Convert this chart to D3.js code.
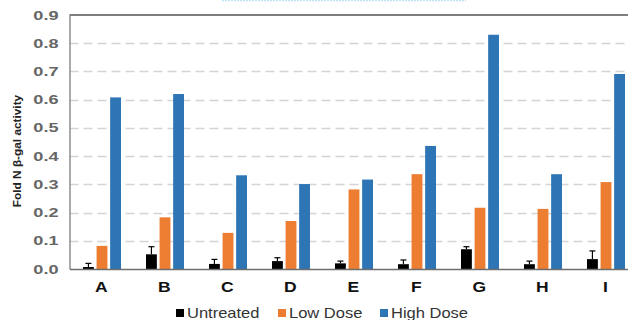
<!DOCTYPE html>
<html><head><meta charset="utf-8">
<script src="https://cdn.jsdelivr.net/npm/d3@7"></script>
<style>html,body{margin:0;padding:0;background:#fff;overflow:hidden}</style>
</head><body>
<svg id="c" width="628" height="320"></svg>
<script>
const categories = ["A","B","C","D","E","F","G","H","I"];
const seriesNames = ["Untreated","Low Dose","High Dose"];
const untreated = [0.007,0.052,0.018,0.028,0.020,0.017,0.070,0.017,0.035];
const untreatedErr = [0.013,0.027,0.016,0.012,0.008,0.015,0.009,0.011,0.029];
const lowDose = [0.082,0.183,0.128,0.170,0.282,0.336,0.217,0.213,0.308];
const highDose = [0.608,0.620,0.332,0.301,0.317,0.436,0.830,0.336,0.691];
const yTicks = [0,0.1,0.2,0.3,0.4,0.5,0.6,0.7,0.8,0.9];
const colors = ["#000000","#ED7D31","#2E75B6"];

const FONT = "Arial, 'Liberation Sans', sans-serif";
const svg = d3.select("#c");
const mLeft = 69.5, mTop = 15, mBottom = 269;
const x = d3.scaleBand().domain(categories).range([mLeft, mLeft + 63*9]);
const x1 = d3.scaleBand().domain(seriesNames).range([0, 38]).paddingInner(0.2);
const y = d3.scaleLinear().domain([0, 0.9]).range([mBottom, mTop]);

// title remnant
svg.append("line").attr("x1",222).attr("x2",466).attr("y1",0.5).attr("y2",0.5)
  .attr("stroke","#bfe3f5").attr("stroke-width",1.5).attr("stroke-dasharray","2,1");

// gridlines
svg.append("g").selectAll("line").data(yTicks.filter(d => d > 0 && d < 0.9)).join("line")
  .attr("x1", mLeft).attr("x2", 628).attr("y1", d => Math.round(y(d))+0.5).attr("y2", d => Math.round(y(d))+0.5)
  .attr("stroke","#d4d4d4").attr("stroke-width",1.5).attr("stroke-dasharray","9,5");

// top border
svg.append("line").attr("x1", mLeft).attr("x2", 628).attr("y1", y(0.9)).attr("y2", y(0.9))
  .attr("stroke","#7f7f7f").attr("stroke-width",2);

// y axis
const ySx = 1.45, yPad = 11;
const yAxis = d3.axisLeft(y).tickValues(yTicks).tickFormat(d3.format(".1f")).tickSize(0).tickPadding(yPad);
const yg = svg.append("g").attr("transform",`translate(${mLeft},0)`).call(yAxis);
yg.select(".domain").attr("stroke","#8c8c8c").attr("stroke-width",1.5);
yg.selectAll("text").attr("font-family",FONT).attr("font-size",12.5)
  .attr("font-weight","bold").attr("fill","#666")
  .attr("x", -yPad/ySx).attr("transform", `scale(${ySx},1)`);

// bars
const data = categories.map((c,i) => ({c, vals:[untreated[i], lowDose[i], highDose[i]], err: untreatedErr[i]}));
const groups = svg.append("g").selectAll("g").data(data).join("g")
  .attr("transform", d => `translate(${x(d.c) + (x.bandwidth()-38)/2 + 1},0)`);
groups.selectAll("rect").data(d => d.vals.map((v,j) => ({v, s: seriesNames[j], j}))).join("rect")
  .attr("x", d => x1(d.s)).attr("width", x1.bandwidth())
  .attr("y", d => y(d.v)).attr("height", d => y(0) - y(d.v))
  .attr("fill", d => colors[d.j]);

// error bars (upper only)
groups.each(function(d){
  const g = d3.select(this);
  const cx = x1("Untreated") + x1.bandwidth()/2;
  g.append("line").attr("x1",cx).attr("x2",cx).attr("y1",y(d.vals[0])).attr("y2",y(d.vals[0]+d.err))
    .attr("stroke","#000").attr("stroke-width",1.2);
  g.append("line").attr("x1",cx-3).attr("x2",cx+3).attr("y1",y(d.vals[0]+d.err)).attr("y2",y(d.vals[0]+d.err))
    .attr("stroke","#000").attr("stroke-width",1.2);
});

// x axis
const xSx = 1.25;
const xAxis = d3.axisBottom(x).tickSize(0).tickPadding(13);
const xg = svg.append("g").attr("transform",`translate(0,${mBottom})`).call(xAxis);
xg.select(".domain").attr("stroke","#6e6e6e").attr("stroke-width",1.5);
xg.selectAll("text").attr("font-family",FONT).attr("font-size",14)
  .attr("font-weight","bold").attr("fill","#111").attr("transform", `scale(${xSx},1)`).attr("x", 0.3);

// y title
svg.append("text").attr("transform","translate(21,151) rotate(-90) scale(1.03,1)")
  .attr("text-anchor","middle").attr("font-family",FONT)
  .attr("font-size",11.5).attr("font-weight","bold").attr("fill","#222")
  .text("Fold N β-gal activity");

// legend
const legX = [176, 278, 380];
const lSx = 1.18;
const leg = svg.append("g").selectAll("g").data(seriesNames).join("g")
  .attr("transform", (d,i) => `translate(${legX[i]},318)`);
leg.append("rect").attr("x",0).attr("y",-9).attr("width",8).attr("height",8).attr("fill",(d,i)=>colors[i]);
leg.append("text").attr("x",11/lSx).attr("y",0).attr("transform",`scale(${lSx},1)`).attr("font-family",FONT)
  .attr("font-size",14).attr("fill","#333").text(d => d);
</script>
</body></html>
